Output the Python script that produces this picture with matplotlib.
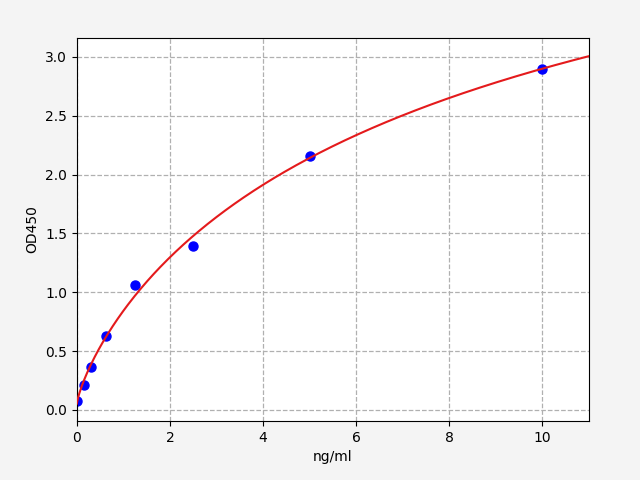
import numpy as np
import matplotlib
matplotlib.use("Agg")
import matplotlib.pyplot as plt

conc = [0.0, 0.156, 0.3125, 0.625, 1.25, 2.5, 5.0, 10.0]
od = [0.077, 0.215, 0.365, 0.63, 1.065, 1.395, 2.16, 2.90]

x = np.array(conc)
y = np.array(od)


def f4(p, xx):
    a, b, c, d = p
    return d + (a - d) / (1.0 + (np.maximum(xx, 0) / c) ** b)


def fit4pl(xx, yy, p0, iters=500):
    p = np.array(p0, dtype=float)
    lam = 1e-2
    def res(pp):
        return yy - f4(pp, xx)
    r = res(p)
    cost = np.sum(r ** 2)
    for _ in range(iters):
        J = np.zeros((len(xx), 4))
        for k in range(4):
            dp = np.zeros(4)
            dp[k] = 1e-6 * max(1.0, abs(p[k]))
            J[:, k] = (f4(p + dp, xx) - f4(p, xx)) / dp[k]
        A = J.T @ J
        g = J.T @ r
        step = np.linalg.solve(A + lam * np.diag(np.diag(A) + 1e-12), g)
        pn = p + step
        if pn[2] <= 0 or pn[1] <= 0:
            lam *= 10
            continue
        rn = res(pn)
        cn = np.sum(rn ** 2)
        if cn < cost:
            p, r, cost = pn, rn, cn
            lam /= 3
        else:
            lam *= 10
    return p


params = fit4pl(x, y, [0.05, 0.8, 8.0, 6.0])
xs = np.linspace(0, 11, 400)

fig = plt.figure(figsize=(6.4, 4.8), dpi=100, facecolor="#f4f4f4")
ax = fig.add_axes([0.12, 0.123, 0.80, 0.798])
ax.plot(x, y, "o", color="blue", markersize=6.5, zorder=2)
ax.plot(xs, f4(params, xs), color="#e41a1c", lw=1.5, zorder=3)
ax.set_xlim(0, 11)
ax.set_ylim(-0.094, 3.161)
ax.grid(True, linestyle="--", color="#b0b0b0", lw=0.9)
ax.set_xlabel("ng/ml")
ax.set_ylabel("OD450")
fig.savefig("out.png", dpi=100, facecolor=fig.get_facecolor())
